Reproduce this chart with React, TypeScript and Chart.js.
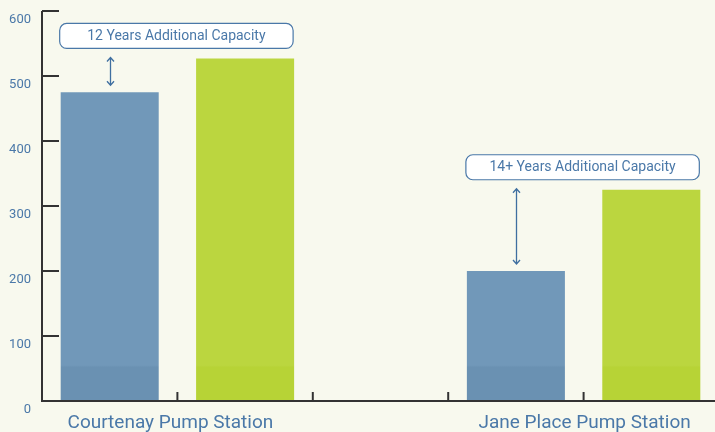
import React, { useEffect, useRef } from 'react';
import { Chart, registerables } from 'chart.js';

Chart.register(...registerables);

const stations = ['Courtenay Pump Station', 'Jane Place Pump Station'];
const currentValues = [475, 200];
const capacityValues = [527, 325];
const capacityNotes = ['12 Years Additional Capacity', '14+ Years Additional Capacity'];
const yTicks = [0, 100, 200, 300, 400, 500, 600];

const BG = '#f8f9ee';
const BLUE = '#7198b9';
const BLUE_DARK = '#6a91b2';
const GREEN = '#bbd63f';
const GREEN_DARK = '#b7d336';
const TEXT = '#4a78a8';
const AXIS = '#333333';
const FONT = 'Roboto, "Open Sans", sans-serif';
const stationLabelShift = [-7, 1];

// slot layout: current, capacity, gap, current, capacity
const slotValues: (number | null)[] = [];
const slotKinds: string[] = [];
const slotLabels: string[] = [];
stations.forEach((s, i) => {
  slotValues.push(currentValues[i], capacityValues[i]);
  slotKinds.push('current', 'capacity');
  slotLabels.push(s + ' current', s + ' capacity');
  if (i < stations.length - 1) {
    slotValues.push(null);
    slotKinds.push('gap');
    slotLabels.push('');
  }
});

function roundRect(ctx: CanvasRenderingContext2D, x: number, y: number, w: number, h: number, r: number) {
  ctx.beginPath();
  ctx.moveTo(x + r, y);
  ctx.lineTo(x + w - r, y);
  ctx.arcTo(x + w, y, x + w, y + r, r);
  ctx.lineTo(x + w, y + h - r);
  ctx.arcTo(x + w, y + h, x + w - r, y + h, r);
  ctx.lineTo(x + r, y + h);
  ctx.arcTo(x, y + h, x, y + h - r, r);
  ctx.lineTo(x, y + r);
  ctx.arcTo(x, y, x + r, y, r);
  ctx.closePath();
}

const decorPlugin = {
  id: 'decor',
  afterDraw(chart: any) {
    const ctx: CanvasRenderingContext2D = chart.ctx;
    const xs = chart.scales.x;
    const ys = chart.scales.y;
    const area = chart.chartArea;
    const meta = chart.getDatasetMeta(0);
    ctx.save();
    // axes
    ctx.strokeStyle = AXIS;
    ctx.lineWidth = 2;
    ctx.beginPath();
    ctx.moveTo(area.left, ys.getPixelForValue(yTicks[yTicks.length - 1]));
    ctx.lineTo(area.left, area.bottom);
    ctx.lineTo(area.right, area.bottom);
    ctx.stroke();
    // y tick marks (inward)
    yTicks.forEach((v) => {
      const py = ys.getPixelForValue(v);
      ctx.beginPath();
      ctx.moveTo(area.left, py);
      ctx.lineTo(area.left + 17, py);
      ctx.stroke();
    });
    // x tick marks at slot boundaries
    for (let i = 0; i < slotValues.length - 1; i++) {
      const px = xs.getPixelForValue(i + 0.5);
      ctx.beginPath();
      ctx.moveTo(px, area.bottom);
      ctx.lineTo(px, area.bottom - 9);
      ctx.stroke();
    }
    // station labels
    ctx.fillStyle = TEXT;
    ctx.font = `19px ${FONT}`;
    ctx.textAlign = 'center';
    ctx.textBaseline = 'middle';
    stations.forEach((s, i) => {
      const px = xs.getPixelForValue(i * 3 + 0.5) + stationLabelShift[i];
      ctx.fillText(s, px, area.bottom + 22);
    });
    // annotations
    stations.forEach((s, i) => {
      const cur = meta.data[i * 3];
      const cap = meta.data[i * 3 + 1];
      const bw = cur.width;
      const greenTop = ys.getPixelForValue(capacityValues[i]);
      const blueTop = ys.getPixelForValue(currentValues[i]);
      const boxBottom = greenTop - 10;
      const boxTop = boxBottom - 25;
      const left = cur.x - bw / 2 - 1;
      const right = cap.x + bw / 2 - 1;
      roundRect(ctx, left, boxTop, right - left, boxBottom - boxTop, 7);
      ctx.fillStyle = '#ffffff';
      ctx.fill();
      ctx.strokeStyle = TEXT;
      ctx.lineWidth = 1.2;
      ctx.stroke();
      ctx.fillStyle = TEXT;
      ctx.font = `14px ${FONT}`;
      ctx.textAlign = 'center';
      ctx.textBaseline = 'middle';
      ctx.fillText(capacityNotes[i], (left + right) / 2, (boxTop + boxBottom) / 2 + 0.5);
      // double arrow
      const ax = Math.round(cur.x) + 0.5;
      const a1 = greenTop - 1;
      const a2 = blueTop - 7;
      ctx.strokeStyle = '#3f6fa0';
      ctx.lineWidth = 1.3;
      ctx.beginPath();
      ctx.moveTo(ax, a1);
      ctx.lineTo(ax, a2);
      ctx.moveTo(ax - 3.5, a1 + 4);
      ctx.lineTo(ax, a1);
      ctx.lineTo(ax + 3.5, a1 + 4);
      ctx.moveTo(ax - 3.5, a2 - 4);
      ctx.lineTo(ax, a2);
      ctx.lineTo(ax + 3.5, a2 - 4);
      ctx.stroke();
    });
    ctx.restore();
  },
};

function barFill(context: any) {
  const chart = context.chart;
  const kind = slotKinds[context.dataIndex];
  const light = kind === 'current' ? BLUE : GREEN;
  const dark = kind === 'current' ? BLUE_DARK : GREEN_DARK;
  const area = chart.chartArea;
  const ys = chart.scales && chart.scales.y;
  if (!area || !ys) return light;
  const bottom = area.bottom;
  const top = area.top;
  const bandTop = ys.getPixelForValue(52);
  const g = chart.ctx.createLinearGradient(0, bottom, 0, top);
  const f = (bottom - bandTop) / (bottom - top);
  g.addColorStop(0, dark);
  g.addColorStop(f, dark);
  g.addColorStop(Math.min(1, f + 0.005), light);
  g.addColorStop(1, light);
  return g;
}

export default function App() {
  const ref = useRef<HTMLCanvasElement | null>(null);
  useEffect(() => {
    if (!ref.current) return;
    const chart = new Chart(ref.current, {
      type: 'bar',
      data: {
        labels: slotLabels,
        datasets: [
          {
            data: slotValues,
            backgroundColor: barFill as any,
            borderWidth: 0,
            barPercentage: 0.724,
            categoryPercentage: 1,
          },
        ],
      },
      options: {
        animation: false,
        responsive: true,
        maintainAspectRatio: false,
        layout: { padding: { top: 11, right: 0, bottom: 0, left: 0 } },
        plugins: { legend: { display: false }, tooltip: { enabled: false } },
        scales: {
          x: {
            type: 'category',
            offset: true,
            grid: { display: false },
            border: { display: false },
            ticks: { display: false },
            afterFit: (scale: any) => {
              scale.height = 31;
              scale.paddingLeft = 0;
              scale.paddingRight = 0;
            },
          },
          y: {
            min: 0,
            max: 600,
            grid: { display: false, drawTicks: false },
            border: { display: false },
            ticks: {
              stepSize: 100,
              color: TEXT,
              font: { family: FONT, size: 13 },
              padding: 11,
              labelOffset: 9,
            },
            afterFit: (scale: any) => {
              scale.width = 42;
              scale.paddingTop = 0;
              scale.paddingBottom = 0;
            },
          },
        },
      },
      plugins: [decorPlugin],
    });
    return () => chart.destroy();
  }, []);
  return (
    <div style={{ position: 'absolute', left: 0, top: 0, width: 715, height: 432, background: BG, overflow: 'hidden' }}>
      <div style={{ position: 'absolute', left: 0, top: 0, width: 719, height: 432 }}>
        <canvas ref={ref} />
      </div>
    </div>
  );
}
